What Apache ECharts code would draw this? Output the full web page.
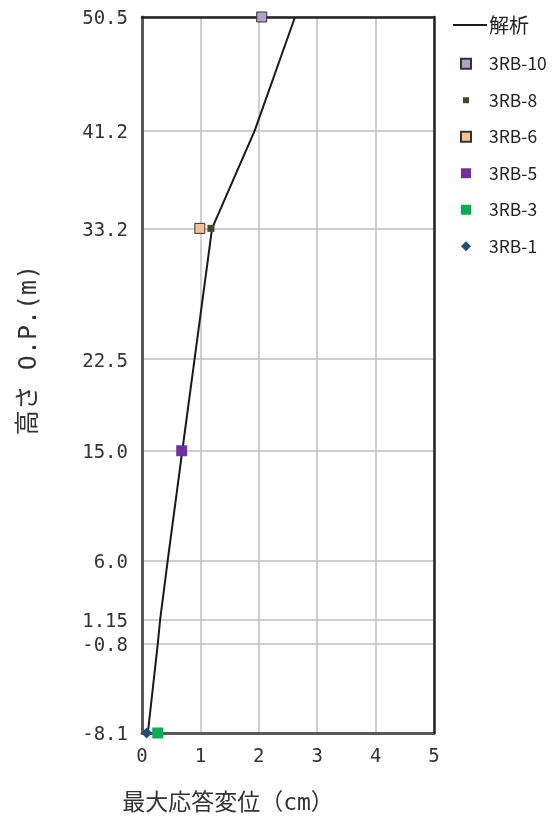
<!DOCTYPE html>
<html>
<head>
    <meta charset="utf-8">
    <title>最大応答変位</title>
    <script src="https://cdn.jsdelivr.net/npm/echarts@6/dist/echarts.min.js"></script>
    <style type="text/css">
        *{margin: 0;padding: 0;}
        body{background: #fff;}
    </style>
</head>
<body>
<div id="main" style="width: 558px;height: 824px;"></div>
<script type="text/javascript">
    // 高さ O.P.(m) の目盛
    var yTicks = [-8.1, -0.8, 1.15, 6.0, 15.0, 22.5, 33.2, 41.2, 50.5];
    var yLabels = ['-8.1', '-0.8', '1.15', '6.0', '15.0', '22.5', '33.2', '41.2', '50.5'];
    var xTicks = [0, 1, 2, 3, 4, 5];

    // 解析 (変位 cm, 高さ m)
    var kaisekiX = [0.10, 0.27, 0.31, 0.44, 0.69, 0.90, 1.20, 1.93, 2.62];
    var kaisekiY = [-8.1, -0.8, 1.15, 6.0, 15.0, 22.5, 33.2, 41.2, 50.5];

    // 計測値
    var rb10 = [[2.05, 50.5]];
    var rb8 = [[1.18, 33.2]];
    var rb6 = [[0.99, 33.2]];
    var rb5 = [[0.68, 15.0]];
    var rb3 = [[0.27, -8.1]];
    var rb1 = [[0.08, -8.1]];

    var lineData = [];
    for (var i = 0; i < kaisekiX.length; i++) {
        lineData.push([kaisekiX[i], kaisekiY[i]]);
    }

    var font = "'Noto Sans CJK JP', sans-serif";
    var numFont = "'DejaVu Sans Mono', 'Noto Sans CJK JP', monospace";
    var myChart = echarts.init(document.getElementById('main'));
    var option = {
        backgroundColor: '#fff',
        animation: false,
        grid: {
            left: 142,
            right: 124,
            top: 17,
            bottom: 91
        },
        legend: [
            {
                left: 448,
                top: 10,
                itemWidth: 34,
                itemHeight: 2,
                symbolKeepAspect: false,
                textStyle: {fontFamily: font, fontSize: 20, color: '#222', padding: [0, 0, 0, -3]},
                data: [{name: '解析', icon: 'rect'}]
            },
            {
                left: 455,
                top: 50,
                orient: 'vertical',
                itemWidth: 10,
                itemHeight: 10,
                itemGap: 19,
                textStyle: {fontFamily: font, fontSize: 17.5, color: '#222', padding: [0, 0, 0, 13]},
                data: [
                    '3RB-10',
                    {name: '3RB-8', icon: 'path://M0,0M10,10M2,2h6v6h-6z'},
                    '3RB-6', '3RB-5', '3RB-3', '3RB-1'
                ]
            }
        ],
        xAxis: [
            {
                type: 'value',
                min: 0,
                max: 5,
                interval: 1,
                name: '最大応答変位（cm）',
                nameLocation: 'middle',
                nameGap: 60,
                nameTextStyle: {fontFamily: numFont, fontSize: 23, color: '#333', padding: [0, 120, 0, 0]},
                axisLine: {show: true, onZero: false, lineStyle: {color: '#595959', width: 3}},
                axisTick: {show: false},
                axisLabel: {
                    fontFamily: numFont, fontSize: 19, color: '#333', margin: 15,
                    formatter: function (v) { return xTicks.indexOf(v) >= 0 ? String(v) : ''; }
                },
                splitLine: {show: true, lineStyle: {color: '#bfbfbf', width: 1.5}},
                z: 1
            },
            {
                type: 'value',
                position: 'top',
                min: 0,
                max: 5,
                interval: 1,
                axisLine: {show: true, onZero: false, lineStyle: {color: '#222', width: 2.5}},
                axisTick: {show: false},
                axisLabel: {show: false},
                splitLine: {show: false},
                z: 2
            }
        ],
        yAxis: [
            {
                type: 'value',
                min: -8.1,
                max: 50.5,
                name: '高さ O.P.(m)',
                nameLocation: 'middle',
                nameGap: 100,
                nameTextStyle: {fontFamily: numFont, fontSize: 25, color: '#333', padding: [0, 0, 0, 50]},
                axisLine: {show: true, onZero: false, lineStyle: {color: '#595959', width: 3}},
                axisTick: {show: false, customValues: yTicks},
                axisLabel: {
                    fontFamily: numFont, fontSize: 19, color: '#333', margin: 14,
                    customValues: yTicks,
                    rich: {
                        v: {fontFamily: numFont, fontSize: 19, color: '#333', padding: [5, 0, 0, 0]}
                    },
                    formatter: function (v) {
                        for (var k = 0; k < yTicks.length; k++) {
                            if (Math.abs(yTicks[k] - v) < 1e-6) return '{v|' + yLabels[k] + '}';
                        }
                        return '';
                    }
                },
                splitLine: {show: true, lineStyle: {color: '#bfbfbf', width: 1.5}},
                z: 1
            },
            {
                type: 'value',
                position: 'right',
                min: -8.1,
                max: 50.5,
                axisLine: {show: true, onZero: false, lineStyle: {color: '#222', width: 2.5}},
                axisTick: {show: false},
                axisLabel: {show: false},
                splitLine: {show: false},
                z: 2
            }
        ],
        series: [
            {
                name: '解析',
                type: 'line',
                symbol: 'none',
                smooth: false,
                lineStyle: {color: '#1a1a1a', width: 2},
                itemStyle: {color: '#1a1a1a'},
                data: lineData,
                z: 3
            },
            {
                name: '3RB-10', type: 'scatter', symbol: 'rect', symbolSize: 10, clip: false,
                itemStyle: {color: '#b3a2c7', borderColor: '#333', borderWidth: 1, opacity: 1},
                data: rb10, z: 4
            },
            {
                name: '3RB-8', type: 'scatter', symbol: 'rect', symbolSize: 7, clip: false,
                itemStyle: {color: '#4a4528', opacity: 1},
                data: rb8, z: 4
            },
            {
                name: '3RB-6', type: 'scatter', symbol: 'rect', symbolSize: 10, clip: false,
                itemStyle: {color: '#fac090', borderColor: '#333', borderWidth: 1, opacity: 1},
                data: rb6, z: 4
            },
            {
                name: '3RB-5', type: 'scatter', symbol: 'rect', symbolSize: 11, clip: false,
                itemStyle: {color: '#7030a0', opacity: 1},
                data: rb5, z: 4
            },
            {
                name: '3RB-3', type: 'scatter', symbol: 'rect', symbolSize: 11, clip: false,
                itemStyle: {color: '#00b050', opacity: 1},
                data: rb3, z: 4
            },
            {
                name: '3RB-1', type: 'scatter', symbol: 'diamond', symbolSize: 11, clip: false,
                itemStyle: {color: '#1f4e79', opacity: 1},
                data: rb1, z: 5
            }
        ]
    };
    myChart.setOption(option);
</script>
</body>
</html>
